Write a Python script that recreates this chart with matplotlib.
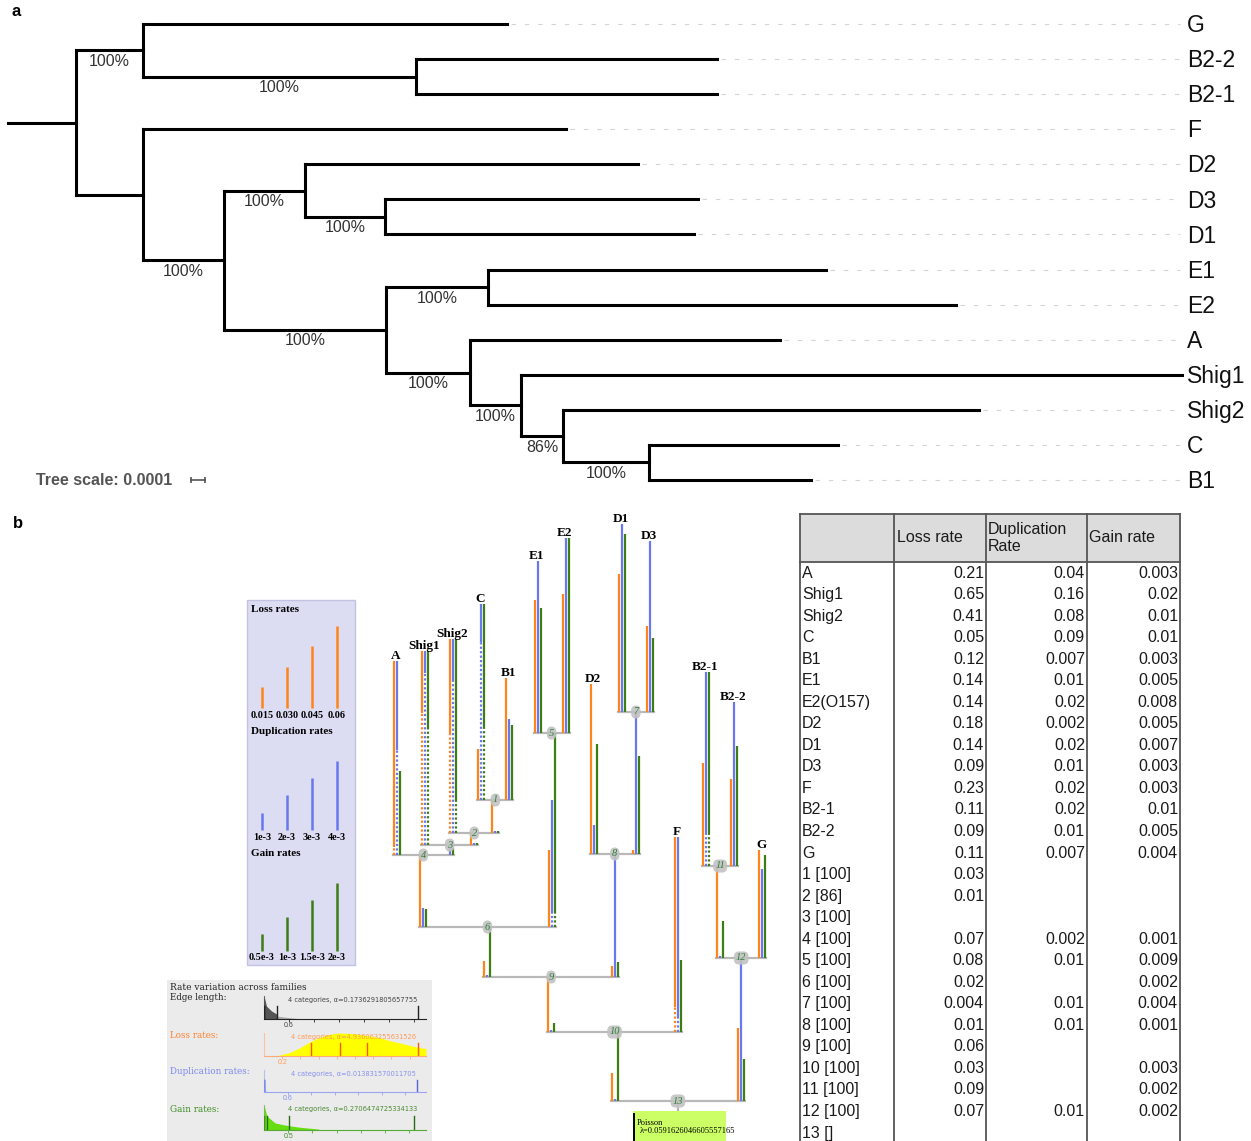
import matplotlib.pyplot as plt
from matplotlib.patches import Rectangle

plt.rcParams['font.family'] = ['Liberation Sans', 'DejaVu Sans']

W, H = 1251, 1141

# ---------------- panel a: ML tree, branch lengths in units of 1e-4 subst/site
a_node = ['root', 'n1', 'G', 'n2', 'B2-2', 'B2-1', 'n3', 'F', 'n4', 'n5', 'D2',
          'n6', 'D3', 'D1', 'n7', 'n8', 'E1', 'E2', 'n9', 'A', 'n10', 'Shig1',
          'n11', 'Shig2', 'n12', 'C', 'B1']
a_parent = [None, 'root', 'n1', 'n1', 'n2', 'n2', 'root', 'n3', 'n3', 'n4', 'n5',
            'n5', 'n6', 'n6', 'n4', 'n7', 'n8', 'n8', 'n7', 'n9', 'n9', 'n10',
            'n10', 'n11', 'n11', 'n12', 'n12']
a_length = [4.86, 4.79, 26.0, 19.5, 21.5, 21.5, 4.79, 30.21, 5.79, 5.79, 23.79,
            5.71, 22.36, 22.07, 11.57, 7.29, 24.14, 33.43, 6.0, 22.14, 3.64, 47.21,
            3.0, 29.71, 6.14, 13.5, 11.57]
a_support = [None, '100%', None, '100%', None, None, None, None, '100%', '100%', None,
             '100%', None, None, '100%', '100%', None, None, '100%', None, '100%', None,
             '86%', None, '100%', None, None]

# ---------------- panel b: Count rate tree (display units)
b_node = ['13', '10', '9', '6', '4', 'A', '3', 'Shig1', '2', 'Shig2', '1', 'C', 'B1',
          '5', 'E1', 'E2', '8', 'D2', '7', 'D1', 'D3', 'F', '12', '11', 'B2-1', 'B2-2', 'G']
b_parent = [None, '13', '10', '9', '6', '4', '4', '3', '3', '2', '2', '1', '1',
            '6', '5', '5', '9', '8', '8', '7', '7', '10', '13', '12', '11', '11', '12']
b_edge = [0, 69, 55, 50, 72, 194, 10, 194, 12, 194, 33, 196, 122,
          194, 172, 195, 123, 170, 142, 188, 171, 195, 143, 92, 194, 164, 108]
loss_len = [0, 28, 55, 16, 72, 194, 0, 194, 12, 194, 33, 51, 122,
            77, 133, 139, 11, 170, 4, 138, 86, 195, 73, 92, 103, 87, 108]
loss_dot = [0, 0, 0, 0, 0, 8, 0, 132, 0, 98, 0, 0, 0,
            0, 0, 0, 0, 0, 0, 0, 0, 25, 0, 0, 0, 0, 0]
dup_len = [0, 2, 2, 2, 19, 194, 7, 194, 2, 194, 2, 196, 81,
           127, 172, 195, 123, 29, 142, 188, 171, 195, 143, 2, 194, 164, 89]
dup_dot = [0, 0, 0, 0, 0, 105, 0, 172, 0, 153, 0, 158, 0,
           14, 0, 0, 0, 0, 0, 0, 0, 14, 0, 0, 33, 0, 0]
gain_len = [0, 69, 9, 50, 18, 84, 7, 194, 2, 194, 2, 196, 75,
            194, 125, 195, 15, 110, 98, 178, 74, 72, 42, 37, 194, 120, 103]
gain_dot = [0, 0, 0, 0, 0, 0, 0, 116, 0, 33, 0, 72, 0,
            14, 0, 0, 0, 0, 0, 0, 0, 0, 0, 0, 33, 0, 0]
poisson_lambda = '0.0591626046605557165'

# rate legend
leg_loss = [0.015, 0.030, 0.045, 0.06]
leg_loss_lbl = ['0.015', '0.030', '0.045', '0.06']
leg_dup = [1e-3, 2e-3, 3e-3, 4e-3]
leg_dup_lbl = ['1e-3', '2e-3', '3e-3', '4e-3']
leg_gain = [0.5e-3, 1e-3, 1.5e-3, 2e-3]
leg_gain_lbl = ['0.5e-3', '1e-3', '1.5e-3', '2e-3']

# rate variation across families (discrete gamma)
rv_rows = ['Edge length:', 'Loss rates:', 'Duplication rates:', 'Gain rates:']
rv_alpha = ['0.1736291805657755', '4.936063255631526', '0.013831570011705', '0.2706474725334133']
rv_cats = [[0.0, 0.0, 0.31, 3.69], [0.52, 0.84, 1.13, 1.69],
           [0.0, 0.0, 0.0, 3.9], [0.0, 0.06, 0.51, 3.1]]
rv_xmax = [3.88, 1.78, 4.13, 3.35]
rv_tick = [0.6, 0.2, 0.6, 0.5]
edge_r = [0, 0.06, 0.18, 0.30]
edge_d = [1.0, 0.56, 0.35, 0.22]
edge_tail_r = [0.30, 0.31, 0.5, 0.7, 0.93]
edge_tail_d = [0.22, 0.13, 0.08, 0.04, 0.0]
loss_r = [0.13, 0.28, 0.39, 0.52, 0.67, 0.81, 0.96, 1.10, 1.27, 1.40, 1.54, 1.68, 1.78]
loss_d = [0.0, 0.15, 0.35, 0.65, 0.9, 1.0, 0.98, 0.91, 0.8, 0.65, 0.52, 0.39, 0.32]
dup_r = [0, 0.05, 0.1]
dup_d = [0.5, 0.1, 0.0]
gain_r = [0, 0.06, 0.23, 0.43, 0.70, 1.11, 1.19]
gain_d = [1.0, 0.56, 0.28, 0.2, 0.12, 0.04, 0.0]

# table of branch rates
t_rows = ['A', 'Shig1', 'Shig2', 'C', 'B1', 'E1', 'E2(O157)', 'D2', 'D1', 'D3', 'F',
          'B2-1', 'B2-2', 'G', '1 [100]', '2 [86]', '3 [100]', '4 [100]', '5 [100]',
          '6 [100]', '7 [100]', '8 [100]', '9 [100]', '10 [100]', '11 [100]', '12 [100]', '13 []']
t_loss = [0.21, 0.65, 0.41, 0.05, 0.12, 0.14, 0.14, 0.18, 0.14, 0.09, 0.23, 0.11, 0.09, 0.11,
          0.03, 0.01, None, 0.07, 0.08, 0.02, 0.004, 0.01, 0.06, 0.03, 0.09, 0.07, None]
t_dup = [0.04, 0.16, 0.08, 0.09, 0.007, 0.01, 0.02, 0.002, 0.02, 0.01, 0.02, 0.02, 0.01, 0.007,
         None, None, None, 0.002, 0.01, None, 0.01, 0.01, None, None, None, 0.01, None]
t_gain = [0.003, 0.02, 0.01, 0.01, 0.003, 0.005, 0.008, 0.005, 0.007, 0.003, 0.003, 0.01, 0.005, 0.004,
          None, None, None, 0.001, 0.009, 0.002, 0.004, 0.001, None, 0.003, 0.002, 0.002, None]

LOSS_C, DUP_C, GAIN_C = '#ff8419', '#6878ee', '#3d7d12'

fig = plt.figure(figsize=(W / 100, H / 100), dpi=100)
cv = fig.add_axes([0, 0, 1, 1])
cv.set_xlim(0, W)
cv.set_ylim(H, 0)
cv.axis('off')

cv.text(12, 12, 'a', fontsize=12, fontweight='bold', va='center')
cv.text(13, 524, 'b', fontsize=12, fontweight='bold', va='center')

# ---------------- panel a
axa = fig.add_axes([0, 1 - 500 / H, 1, 500 / H])
axa.axis('off')
axa.patch.set_alpha(0)
PX = 14.0            # pixels per 0.0001
TIP_DY = 35.08
axa.set_xlim(-8 / PX, (W - 8) / PX)
axa.set_ylim(476 / TIP_DY, -24 / TIP_DY)

kids = {n: [] for n in a_node}
for n, p in zip(a_node, a_parent):
    if p is not None:
        kids[p].append(n)
blen = dict(zip(a_node, a_length))
supp = dict(zip(a_node, a_support))
par = dict(zip(a_node, a_parent))
ax_x, ax_y, a_tips = {}, {}, []


def layout_a(n, x0):
    ax_x[n] = x0 + blen[n]
    if not kids[n]:
        ax_y[n] = len(a_tips)
        a_tips.append(n)
    else:
        for c in kids[n]:
            layout_a(c, ax_x[n])
        ax_y[n] = (ax_y[kids[n][0]] + ax_y[kids[n][-1]]) / 2


layout_a('root', 0.0)
guide_end = (1180 - 8) / PX
for n in a_node:
    x0 = 0.0 if par[n] is None else ax_x[par[n]]
    axa.plot([x0, ax_x[n]], [ax_y[n], ax_y[n]], color='black', lw=2.2,
             solid_capstyle='projecting')
    if kids[n]:
        axa.plot([ax_x[n], ax_x[n]], [ax_y[kids[n][0]], ax_y[kids[n][-1]]],
                 color='black', lw=2.2, solid_capstyle='projecting')
    else:
        if ax_x[n] < guide_end:
            axa.plot([ax_x[n] + 0.3, guide_end], [ax_y[n], ax_y[n]], color='#d4d4d4',
                     lw=0.8, dashes=(4, 8))
        axa.annotate(n, (1187 / W, ax_y[n]), xycoords=axa.get_yaxis_transform(),
                     xytext=(0, -1.2), textcoords='offset points',
                     fontsize=16.5, va='center', ha='left', color='#111111')
    if supp[n]:
        axa.annotate(supp[n], ((x0 + ax_x[n]) / 2, ax_y[n]), xytext=(0, -2.5),
                     textcoords='offset points', ha='center', va='top',
                     fontsize=11.5, color='#333333')

# tree scale
sb_x = (191 - 8) / PX
axa.plot([sb_x, sb_x + 1], [ax_y['B1'], ax_y['B1']], color='#555555', lw=1.2,
         marker='|', ms=5, mew=1.2)
axa.text(36 / W, ax_y['B1'], 'Tree scale: 0.0001', transform=axa.get_yaxis_transform(),
         fontsize=11.5, fontweight='bold', color='#555555', va='center', ha='left')

# ---------------- panel b: rate tree
ROOT_Y = 1101
TIP_X0, TIP_DX = 397, 28.1
bk = {n: [] for n in b_node}
for n, p in zip(b_node, b_parent):
    if p is not None:
        bk[p].append(n)
bpar = dict(zip(b_node, b_parent))
bedge = dict(zip(b_node, b_edge))
bx, bh, b_tips = {}, {}, []


def layout_b(n, h0):
    bh[n] = h0 + bedge[n]
    if not bk[n]:
        bx[n] = TIP_X0 + TIP_DX * len(b_tips)
        b_tips.append(n)
    else:
        for c in bk[n]:
            layout_b(c, bh[n])
        bx[n] = (bx[bk[n][0]] + bx[bk[n][-1]]) / 2


layout_b('13', 0)


def Y(h):
    return ROOT_Y - h


for n in b_node:
    if bk[n]:
        cv.plot([bx[bk[n][0]] - 4, bx[bk[n][-1]] + 4], [Y(bh[n])] * 2,
                color='#b8b8b8', lw=1.6, zorder=1)

for i, n in enumerate(b_node):
    if bpar[n] is None:
        continue
    h0 = bh[bpar[n]]
    bars = [(loss_len[i], loss_dot[i], LOSS_C, -3),
            (dup_len[i], dup_dot[i], DUP_C, 0),
            (gain_len[i], gain_dot[i], GAIN_C, 3)]
    for ln, dot, col, dx in bars:
        if ln <= 0:
            continue
        xx = bx[n] + dx
        if dot > 0:
            cv.plot([xx, xx], [Y(h0), Y(h0 + dot)], color=col, lw=1.6,
                    ls=(0, (1, 1)), solid_capstyle='butt', zorder=2)
        cv.plot([xx, xx], [Y(h0 + dot), Y(h0 + ln)], color=col, lw=1.6,
                solid_capstyle='butt', zorder=2)
    if not bk[n]:
        cv.text(bx[n] - 1, Y(bh[n]) + 1, n, family=['Liberation Serif', 'DejaVu Serif'],
                fontweight='bold', fontsize=9.5, ha='center', va='bottom')

for n in b_node:
    if bk[n]:
        cv.text(bx[n], Y(bh[n]), n, family=['Liberation Serif', 'DejaVu Serif'],
                style='italic', fontsize=7.5, color='#2f7f3a', ha='center', va='center',
                zorder=4, bbox=dict(boxstyle='round,pad=0.2,rounding_size=0.5',
                                    fc='#c2c2c2', ec='none', alpha=0.9))

# root model box
rx = bx['13']
cv.plot([rx, rx], [ROOT_Y, ROOT_Y + 10], color='#b8b8b8', lw=1.6, zorder=1)
cv.add_patch(Rectangle((rx - 45, ROOT_Y + 10), 93, 45, fc='#ccff66', ec='none', zorder=1))
cv.plot([rx - 44, rx - 44], [ROOT_Y + 13, H], color='black', lw=1.4, zorder=2)
cv.text(rx - 41, ROOT_Y + 22, 'Poisson', family=['Liberation Serif', 'DejaVu Serif'],
        fontsize=6, va='center', ha='left')
cv.text(rx - 38, ROOT_Y + 30, '\u03bb=' + poisson_lambda,
        family=['Liberation Serif', 'DejaVu Serif'], fontsize=6, va='center', ha='left')

# ---------------- rate legend
cv.add_patch(Rectangle((247, 600), 108, 365, fc='#dcdcf3', ec='#c2c2e2', lw=1, zorder=0))
SERIF = ['Liberation Serif', 'DejaVu Serif']
legend_groups = [('Loss rates', leg_loss, leg_loss_lbl, 1370, LOSS_C, 609, 708),
                 ('Duplication rates', leg_dup, leg_dup_lbl, 17300, DUP_C, 732, 830),
                 ('Gain rates', leg_gain, leg_gain_lbl, 34000, GAIN_C, 854, 951)]
for title, vals, lbls, scale, col, ty, base in legend_groups:
    cv.text(251, ty, title, family=SERIF, fontweight='bold', fontsize=8, va='center')
    for k, (v, lb) in enumerate(zip(vals, lbls)):
        xx = 262 + 25 * k
        cv.plot([xx, xx], [base, base - v * scale], color=col, lw=1.8, solid_capstyle='butt')
        cv.text(xx, base + 7, lb, family=SERIF, fontweight='bold', fontsize=7.3,
                ha='center', va='center')

# ---------------- rate variation across families
cv.add_patch(Rectangle((167, 980), 265, 161, fc='#ebebeb', ec='none', zorder=0))
cv.text(170, 987, 'Rate variation across families', family='DejaVu Serif',
        fontsize=6.5, va='center', color='#222222')
row_lbl_c = ['#222222', '#ff7f2a', '#7a86ee', '#3c8c22']
row_axis_c = ['#222222', '#ffaa77', '#9aa4f0', '#55aa33']
row_cat_c = ['#222222', '#ff5a00', '#5566dd', '#2a6a10']
row_txt_c = ['#444444', '#ff9955', '#8890ee', '#4a8a30']
row_y = [998, 1035, 1072, 1109]
row_base = [1019, 1056, 1092, 1130]
row_top = [996, 1033, 1070, 1105]
fills = [[(edge_r, edge_d, '#555555'), (edge_tail_r, edge_tail_d, '#aaaaaa')],
         [(loss_r, loss_d, '#ffff00')],
         [(dup_r, dup_d, '#c4e2ff')],
         [(gain_r, gain_d, '#66dd11')]]
for k in range(4):
    cv.text(170, row_y[k], rv_rows[k], family='DejaVu Serif', fontsize=6.3,
            va='center', color=row_lbl_c[k])
    ia = fig.add_axes([264 / W, 1 - row_base[k] / H, 162 / W,
                       (row_base[k] - row_top[k]) / H])
    ia.patch.set_alpha(0)
    ia.set_xlim(0, rv_xmax[k])
    ia.set_ylim(0, 1)
    for r, d, fc in fills[k]:
        ia.fill_between(r, 0, d, color=fc, lw=0)
    for c in rv_cats[k]:
        ia.plot([c, c], [0, 0.55], color=row_cat_c[k], lw=1.0)
    for s in ['top', 'right']:
        ia.spines[s].set_visible(False)
    ia.spines['bottom'].set_color(row_axis_c[k])
    ia.spines['left'].set_color(row_axis_c[k])
    ia.spines['left'].set_alpha(0.6)
    ia.set_yticks([])
    ticks = [rv_tick[k] * (j + 1) for j in range(int(rv_xmax[k] / rv_tick[k]))]
    ia.set_xticks(ticks)
    ia.set_xticklabels([f'{rv_tick[k]:g}'] + [''] * (len(ticks) - 1))
    ia.tick_params(axis='x', length=2, width=0.6, pad=0.5, labelsize=5,
                   colors=row_axis_c[k], labelcolor=row_txt_c[k])
    ia.text(0.55, 0.83, f'4 categories, \u03b1={rv_alpha[k]}', transform=ia.transAxes,
            fontsize=4.8, color=row_txt_c[k], ha='center', va='center',
            family='DejaVu Sans')

# ---------------- rate table
cols = [800, 894, 986, 1087, 1180]
T_TOP, T_HEAD, ROW0, ROW_DY = 514, 562, 573, 21.54
cv.add_patch(Rectangle((cols[0], T_TOP), cols[-1] - cols[0], T_HEAD - T_TOP,
                       fc='#dcdcdc', ec='none', zorder=0))
line_kw = dict(color='#555555', lw=1.3)
cv.plot([cols[0], cols[-1]], [T_TOP, T_TOP], **line_kw)
cv.plot([cols[0], cols[-1]], [T_HEAD, T_HEAD], **line_kw)
for c in cols:
    cv.plot([c, c], [T_TOP, H], **line_kw)
hdr_kw = dict(fontsize=11.5, va='center', ha='left', color='#1a1a1a')
cv.text(cols[1] + 3, 538, 'Loss rate', **hdr_kw)
cv.text(cols[2] + 2, 538, 'Duplication\nRate', linespacing=1.15, **hdr_kw)
cv.text(cols[3] + 2, 538, 'Gain rate', **hdr_kw)
for i, name in enumerate(t_rows):
    yy = ROW0 + ROW_DY * i
    cv.text(cols[0] + 2, yy, name, fontsize=11.5, va='center', ha='left', color='#1a1a1a')
    for j, col in enumerate([t_loss, t_dup, t_gain]):
        if col[i] is not None:
            cv.text(cols[j + 2] - 2, yy, f'{col[i]:g}', fontsize=11.5, va='center',
                    ha='right', color='#1a1a1a')

fig.savefig('out.png', dpi=100)
